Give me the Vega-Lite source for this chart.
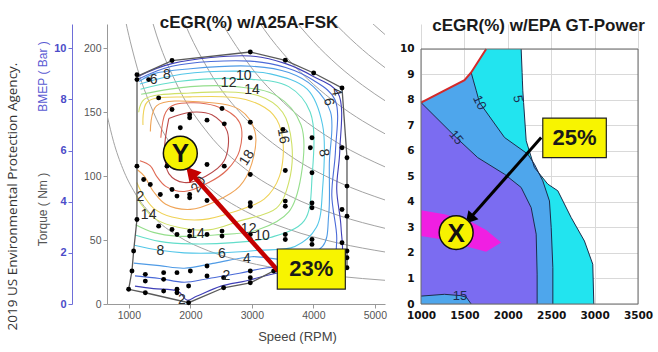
{
  "$schema": "https://vega.github.io/schema/vega-lite/v6.json",
  "background": "white",
  "padding": {"left": 5, "top": 14, "right": 5, "bottom": 5},
  "config": {"view": {"stroke": null}, "font": "Liberation Sans", "axis": {"labelFlush": false}},
  "spacing": 36,
  "bounds": "flush",
  "datasets": {
    "powerLines": [
      {"kw": 10, "speed": 650, "torque": 146.9}, {"kw": 10, "speed": 750, "torque": 127.3}, {"kw": 10, "speed": 900, "torque": 106.1}, {"kw": 10, "speed": 1100, "torque": 86.8}, {"kw": 10, "speed": 1400, "torque": 68.2}, {"kw": 10, "speed": 1800, "torque": 53.1}, {"kw": 10, "speed": 2300, "torque": 41.5}, {"kw": 10, "speed": 2900, "torque": 32.9}, {"kw": 10, "speed": 3600, "torque": 26.5}, {"kw": 10, "speed": 4400, "torque": 21.7}, {"kw": 10, "speed": 5200, "torque": 18.4},
      {"kw": 22, "speed": 750, "torque": 280.1}, {"kw": 22, "speed": 900, "torque": 233.4}, {"kw": 22, "speed": 1100, "torque": 191.0}, {"kw": 22, "speed": 1400, "torque": 150.0}, {"kw": 22, "speed": 1800, "torque": 116.7}, {"kw": 22, "speed": 2300, "torque": 91.3}, {"kw": 22, "speed": 2900, "torque": 72.4}, {"kw": 22, "speed": 3600, "torque": 58.4}, {"kw": 22, "speed": 4400, "torque": 47.7}, {"kw": 22, "speed": 5200, "torque": 40.4},
      {"kw": 32, "speed": 1100, "torque": 277.8}, {"kw": 32, "speed": 1400, "torque": 218.2}, {"kw": 32, "speed": 1800, "torque": 169.8}, {"kw": 32, "speed": 2300, "torque": 132.9}, {"kw": 32, "speed": 2900, "torque": 105.4}, {"kw": 32, "speed": 3600, "torque": 84.9}, {"kw": 32, "speed": 4400, "torque": 69.4}, {"kw": 32, "speed": 5200, "torque": 58.8},
      {"kw": 44, "speed": 1400, "torque": 300.1}, {"kw": 44, "speed": 1800, "torque": 233.4}, {"kw": 44, "speed": 2300, "torque": 182.7}, {"kw": 44, "speed": 2900, "torque": 144.9}, {"kw": 44, "speed": 3600, "torque": 116.7}, {"kw": 44, "speed": 4400, "torque": 95.5}, {"kw": 44, "speed": 5200, "torque": 80.8},
      {"kw": 58, "speed": 1800, "torque": 307.7}, {"kw": 58, "speed": 2300, "torque": 240.8}, {"kw": 58, "speed": 2900, "torque": 191.0}, {"kw": 58, "speed": 3600, "torque": 153.9}, {"kw": 58, "speed": 4400, "torque": 125.9}, {"kw": 58, "speed": 5200, "torque": 106.5},
      {"kw": 72, "speed": 2300, "torque": 298.9}, {"kw": 72, "speed": 2600, "torque": 264.4}, {"kw": 72, "speed": 2900, "torque": 237.1}, {"kw": 72, "speed": 3200, "torque": 214.8}, {"kw": 72, "speed": 3600, "torque": 191.0}, {"kw": 72, "speed": 4000, "torque": 171.9}, {"kw": 72, "speed": 4400, "torque": 156.2}, {"kw": 72, "speed": 4800, "torque": 143.2}, {"kw": 72, "speed": 5200, "torque": 132.2},
      {"kw": 86, "speed": 2900, "torque": 283.2}, {"kw": 86, "speed": 3200, "torque": 256.6}, {"kw": 86, "speed": 3600, "torque": 228.2}, {"kw": 86, "speed": 4000, "torque": 205.3}, {"kw": 86, "speed": 4400, "torque": 186.6}, {"kw": 86, "speed": 4800, "torque": 171.1}, {"kw": 86, "speed": 5200, "torque": 157.9},
      {"kw": 100, "speed": 3600, "torque": 265.3}, {"kw": 100, "speed": 4000, "torque": 238.7}, {"kw": 100, "speed": 4400, "torque": 217.0}, {"kw": 100, "speed": 4800, "torque": 198.9}, {"kw": 100, "speed": 5200, "torque": 183.6},
      {"kw": 114, "speed": 3600, "torque": 302.4}, {"kw": 114, "speed": 4000, "torque": 272.1}, {"kw": 114, "speed": 4400, "torque": 247.4}, {"kw": 114, "speed": 4800, "torque": 226.8}, {"kw": 114, "speed": 5200, "torque": 209.3}
    ],
    "contours": [
      {"level": 2, "seq": 0, "speed": 1150, "torque": 178}, {"level": 2, "seq": 1, "speed": 1700, "torque": 188}, {"level": 2, "seq": 2, "speed": 2975, "torque": 194}, {"level": 2, "seq": 3, "speed": 3550, "torque": 188}, {"level": 2, "seq": 4, "speed": 4000, "torque": 178}, {"level": 2, "seq": 5, "speed": 4400, "torque": 165}, {"level": 2, "seq": 6, "speed": 4430, "torque": 120}, {"level": 2, "seq": 7, "speed": 4380, "torque": 90}, {"level": 2, "seq": 8, "speed": 4450, "torque": 60}, {"level": 2, "seq": 9, "speed": 4430, "torque": 35}, {"level": 2, "seq": 10, "speed": 4000, "torque": 28}, {"level": 2, "seq": 11, "speed": 3400, "torque": 24}, {"level": 2, "seq": 12, "speed": 2900, "torque": 18}, {"level": 2, "seq": 13, "speed": 2500, "torque": 14}, {"level": 2, "seq": 14, "speed": 2100, "torque": 6}, {"level": 2, "seq": 15, "speed": 1950, "torque": 3}, {"level": 2, "seq": 16, "speed": 1800, "torque": 10}, {"level": 2, "seq": 17, "speed": 1400, "torque": 12}, {"level": 2, "seq": 18, "speed": 1100, "torque": 14},
      {"level": 4, "seq": 0, "speed": 1160, "torque": 176}, {"level": 4, "seq": 1, "speed": 1700, "torque": 186}, {"level": 4, "seq": 2, "speed": 2975, "torque": 190}, {"level": 4, "seq": 3, "speed": 3550, "torque": 185}, {"level": 4, "seq": 4, "speed": 4000, "torque": 175}, {"level": 4, "seq": 5, "speed": 4350, "torque": 160}, {"level": 4, "seq": 6, "speed": 4360, "torque": 120}, {"level": 4, "seq": 7, "speed": 4300, "torque": 85}, {"level": 4, "seq": 8, "speed": 4380, "torque": 50}, {"level": 4, "seq": 9, "speed": 4300, "torque": 33}, {"level": 4, "seq": 10, "speed": 3800, "torque": 30}, {"level": 4, "seq": 11, "speed": 3200, "torque": 28}, {"level": 4, "seq": 12, "speed": 2800, "torque": 24}, {"level": 4, "seq": 13, "speed": 2300, "torque": 20}, {"level": 4, "seq": 14, "speed": 1900, "torque": 17}, {"level": 4, "seq": 15, "speed": 1500, "torque": 20}, {"level": 4, "seq": 16, "speed": 1100, "torque": 22},
      {"level": 6, "seq": 0, "speed": 1170, "torque": 174}, {"level": 6, "seq": 1, "speed": 1400, "torque": 180}, {"level": 6, "seq": 2, "speed": 2000, "torque": 184}, {"level": 6, "seq": 3, "speed": 3000, "torque": 186}, {"level": 6, "seq": 4, "speed": 3600, "torque": 181}, {"level": 6, "seq": 5, "speed": 4000, "torque": 170}, {"level": 6, "seq": 6, "speed": 4280, "torque": 150}, {"level": 6, "seq": 7, "speed": 4260, "torque": 110}, {"level": 6, "seq": 8, "speed": 4250, "torque": 70}, {"level": 6, "seq": 9, "speed": 4150, "torque": 45}, {"level": 6, "seq": 10, "speed": 3600, "torque": 35}, {"level": 6, "seq": 11, "speed": 3000, "torque": 37}, {"level": 6, "seq": 12, "speed": 2400, "torque": 32}, {"level": 6, "seq": 13, "speed": 1900, "torque": 28}, {"level": 6, "seq": 14, "speed": 1500, "torque": 30}, {"level": 6, "seq": 15, "speed": 1080, "torque": 32},
      {"level": 8, "seq": 0, "speed": 1180, "torque": 172}, {"level": 8, "seq": 1, "speed": 1650, "torque": 178}, {"level": 8, "seq": 2, "speed": 2500, "torque": 182}, {"level": 8, "seq": 3, "speed": 3300, "torque": 180}, {"level": 8, "seq": 4, "speed": 3900, "torque": 168}, {"level": 8, "seq": 5, "speed": 4150, "torque": 140}, {"level": 8, "seq": 6, "speed": 4150, "torque": 90}, {"level": 8, "seq": 7, "speed": 4050, "torque": 60}, {"level": 8, "seq": 8, "speed": 3700, "torque": 45}, {"level": 8, "seq": 9, "speed": 3100, "torque": 42}, {"level": 8, "seq": 10, "speed": 2500, "torque": 40}, {"level": 8, "seq": 11, "speed": 1900, "torque": 40}, {"level": 8, "seq": 12, "speed": 1500, "torque": 42}, {"level": 8, "seq": 13, "speed": 1090, "torque": 46},
      {"level": 10, "seq": 0, "speed": 1190, "torque": 168}, {"level": 10, "seq": 1, "speed": 1800, "torque": 174}, {"level": 10, "seq": 2, "speed": 2900, "torque": 176}, {"level": 10, "seq": 3, "speed": 3600, "torque": 170}, {"level": 10, "seq": 4, "speed": 3950, "torque": 150}, {"level": 10, "seq": 5, "speed": 3980, "torque": 100}, {"level": 10, "seq": 6, "speed": 3850, "torque": 65}, {"level": 10, "seq": 7, "speed": 3300, "torque": 52}, {"level": 10, "seq": 8, "speed": 2700, "torque": 48}, {"level": 10, "seq": 9, "speed": 2000, "torque": 47}, {"level": 10, "seq": 10, "speed": 1500, "torque": 49}, {"level": 10, "seq": 11, "speed": 1100, "torque": 54},
      {"level": 12, "seq": 0, "speed": 1200, "torque": 164}, {"level": 12, "seq": 1, "speed": 2000, "torque": 170}, {"level": 12, "seq": 2, "speed": 2750, "torque": 170}, {"level": 12, "seq": 3, "speed": 3400, "torque": 163}, {"level": 12, "seq": 4, "speed": 3800, "torque": 140}, {"level": 12, "seq": 5, "speed": 3800, "torque": 100}, {"level": 12, "seq": 6, "speed": 3600, "torque": 72}, {"level": 12, "seq": 7, "speed": 3100, "torque": 58}, {"level": 12, "seq": 8, "speed": 2400, "torque": 54}, {"level": 12, "seq": 9, "speed": 1800, "torque": 53}, {"level": 12, "seq": 10, "speed": 1400, "torque": 56}, {"level": 12, "seq": 11, "speed": 1110, "torque": 62},
      {"level": 14, "seq": 0, "speed": 1160, "torque": 150}, {"level": 14, "seq": 1, "speed": 1250, "torque": 160}, {"level": 14, "seq": 2, "speed": 2000, "torque": 165}, {"level": 14, "seq": 3, "speed": 3100, "torque": 163}, {"level": 14, "seq": 4, "speed": 3500, "torque": 150}, {"level": 14, "seq": 5, "speed": 3650, "torque": 125}, {"level": 14, "seq": 6, "speed": 3600, "torque": 95}, {"level": 14, "seq": 7, "speed": 3400, "torque": 75}, {"level": 14, "seq": 8, "speed": 2800, "torque": 65}, {"level": 14, "seq": 9, "speed": 2300, "torque": 58}, {"level": 14, "seq": 10, "speed": 1800, "torque": 60}, {"level": 14, "seq": 11, "speed": 1450, "torque": 66}, {"level": 14, "seq": 12, "speed": 1200, "torque": 78}, {"level": 14, "seq": 13, "speed": 1120, "torque": 85},
      {"level": 16, "seq": 0, "speed": 1230, "torque": 140}, {"level": 16, "seq": 1, "speed": 1300, "torque": 158}, {"level": 16, "seq": 2, "speed": 2000, "torque": 162}, {"level": 16, "seq": 3, "speed": 2900, "torque": 160}, {"level": 16, "seq": 4, "speed": 3350, "torque": 148}, {"level": 16, "seq": 5, "speed": 3500, "torque": 130}, {"level": 16, "seq": 6, "speed": 3450, "torque": 100}, {"level": 16, "seq": 7, "speed": 3200, "torque": 82}, {"level": 16, "seq": 8, "speed": 2700, "torque": 72}, {"level": 16, "seq": 9, "speed": 2200, "torque": 66}, {"level": 16, "seq": 10, "speed": 1700, "torque": 68}, {"level": 16, "seq": 11, "speed": 1400, "torque": 75}, {"level": 16, "seq": 12, "speed": 1200, "torque": 88}, {"level": 16, "seq": 13, "speed": 1130, "torque": 95},
      {"level": 18, "seq": 0, "speed": 1350, "torque": 135}, {"level": 18, "seq": 1, "speed": 1450, "torque": 155}, {"level": 18, "seq": 2, "speed": 2200, "torque": 158}, {"level": 18, "seq": 3, "speed": 2800, "torque": 152}, {"level": 18, "seq": 4, "speed": 3050, "torque": 135}, {"level": 18, "seq": 5, "speed": 3000, "torque": 110}, {"level": 18, "seq": 6, "speed": 2800, "torque": 92}, {"level": 18, "seq": 7, "speed": 2400, "torque": 80}, {"level": 18, "seq": 8, "speed": 2000, "torque": 74}, {"level": 18, "seq": 9, "speed": 1600, "torque": 78}, {"level": 18, "seq": 10, "speed": 1400, "torque": 88}, {"level": 18, "seq": 11, "speed": 1250, "torque": 100}, {"level": 18, "seq": 12, "speed": 1140, "torque": 105},
      {"level": 20, "seq": 0, "speed": 1520, "torque": 130}, {"level": 20, "seq": 1, "speed": 1600, "torque": 150}, {"level": 20, "seq": 2, "speed": 1750, "torque": 156}, {"level": 20, "seq": 3, "speed": 2400, "torque": 155}, {"level": 20, "seq": 4, "speed": 2800, "torque": 142}, {"level": 20, "seq": 5, "speed": 2800, "torque": 120}, {"level": 20, "seq": 6, "speed": 2600, "torque": 105}, {"level": 20, "seq": 7, "speed": 2300, "torque": 95}, {"level": 20, "seq": 8, "speed": 1900, "torque": 88}, {"level": 20, "seq": 9, "speed": 1600, "torque": 92}, {"level": 20, "seq": 10, "speed": 1450, "torque": 100}, {"level": 20, "seq": 11, "speed": 1350, "torque": 108}, {"level": 20, "seq": 12, "speed": 1180, "torque": 112},
      {"level": 22, "seq": 0, "speed": 1650, "torque": 145}, {"level": 22, "seq": 1, "speed": 2000, "torque": 150}, {"level": 22, "seq": 2, "speed": 2350, "torque": 148}, {"level": 22, "seq": 3, "speed": 2600, "torque": 135}, {"level": 22, "seq": 4, "speed": 2550, "torque": 112}, {"level": 22, "seq": 5, "speed": 2250, "torque": 100}, {"level": 22, "seq": 6, "speed": 1900, "torque": 95}, {"level": 22, "seq": 7, "speed": 1650, "torque": 102}, {"level": 22, "seq": 8, "speed": 1580, "torque": 120}, {"level": 22, "seq": 9, "speed": 1650, "torque": 145}
    ],
    "envelope": [
      {"seq": 0, "speed": 1133, "torque": 178}, {"seq": 1, "speed": 1702, "torque": 190.4}, {"seq": 2, "speed": 2975, "torque": 197.1}, {"seq": 3, "speed": 3544, "torque": 190.6}, {"seq": 4, "speed": 4005, "torque": 180.7}, {"seq": 5, "speed": 4466, "torque": 169}, {"seq": 6, "speed": 4547, "torque": 114.4}, {"seq": 7, "speed": 4547, "torque": 28.4}, {"seq": 8, "speed": 3355, "torque": 25.8}, {"seq": 9, "speed": 2975, "torque": 16.6}, {"seq": 10, "speed": 2541, "torque": 12.7}, {"seq": 11, "speed": 1972, "torque": 1.0}, {"seq": 12, "speed": 1268, "torque": 8.8}, {"seq": 13, "speed": 997, "torque": 11.5}, {"seq": 14, "speed": 1051, "torque": 25.8}, {"seq": 15, "speed": 1078, "torque": 41.4}, {"seq": 16, "speed": 1132, "torque": 66.1}, {"seq": 17, "speed": 1133, "torque": 178}
    ],
    "testPoints": [
      {"speed": 1132, "torque": 179.4}, {"speed": 1132, "torque": 175.5}, {"speed": 1322, "torque": 175.5}, {"speed": 1702, "torque": 190.4}, {"speed": 2975, "torque": 197.1}, {"speed": 3544, "torque": 190.6}, {"speed": 4005, "torque": 180.7}, {"speed": 4466, "torque": 169},
      {"speed": 1485, "torque": 161.2}, {"speed": 1702, "torque": 152.1}, {"speed": 1837, "torque": 137.8}, {"speed": 1989, "torque": 148}, {"speed": 1989, "torque": 145.6}, {"speed": 2271, "torque": 143.8}, {"speed": 2515, "torque": 152.9}, {"speed": 2552, "torque": 140.9}, {"speed": 2975, "torque": 142.2}, {"speed": 2975, "torque": 130}, {"speed": 3506, "torque": 136.5}, {"speed": 3978, "torque": 130}, {"speed": 3951, "torque": 122.2}, {"speed": 4466, "torque": 122.2}, {"speed": 4547, "torque": 114.4},
      {"speed": 1132, "torque": 107.8}, {"speed": 1620, "torque": 107.8}, {"speed": 2271, "torque": 109.1}, {"speed": 2552, "torque": 107.8},
      {"speed": 2975, "torque": 101.3}, {"speed": 3544, "torque": 104.4}, {"speed": 3978, "torque": 102.6}, {"speed": 4547, "torque": 92.2}, {"speed": 1241, "torque": 97.4}, {"speed": 1349, "torque": 93.5}, {"speed": 1512, "torque": 85.7}, {"speed": 1702, "torque": 89.6}, {"speed": 1783, "torque": 84.4}, {"speed": 1989, "torque": 85.7}, {"speed": 1989, "torque": 83.1}, {"speed": 2271, "torque": 81}, {"speed": 2975, "torque": 79.2}, {"speed": 2975, "torque": 76.5}, {"speed": 3544, "torque": 80.5}, {"speed": 3544, "torque": 76.5}, {"speed": 3978, "torque": 79}, {"speed": 3978, "torque": 75.3}, {"speed": 4466, "torque": 73.9}, {"speed": 4547, "torque": 68.7},
      {"speed": 1132, "torque": 66.1}, {"speed": 1485, "torque": 60.9}, {"speed": 1702, "torque": 58.3}, {"speed": 1783, "torque": 54.4}, {"speed": 1989, "torque": 57}, {"speed": 1989, "torque": 53.1}, {"speed": 2271, "torque": 54.4}, {"speed": 2515, "torque": 57}, {"speed": 2515, "torque": 53.1}, {"speed": 2975, "torque": 54.4}, {"speed": 2975, "torque": 50.5}, {"speed": 3544, "torque": 54.4}, {"speed": 3544, "torque": 50.5}, {"speed": 3978, "torque": 50.5}, {"speed": 3978, "torque": 46.6}, {"speed": 4466, "torque": 47.9}, {"speed": 4547, "torque": 41.4}, {"speed": 4547, "torque": 36.2}, {"speed": 4547, "torque": 28.4},
      {"speed": 1078, "torque": 41.4}, {"speed": 1051, "torque": 25.8}, {"speed": 1268, "torque": 23.2}, {"speed": 1268, "torque": 17.9}, {"speed": 1566, "torque": 24.5}, {"speed": 1566, "torque": 19.3}, {"speed": 1783, "torque": 24.5}, {"speed": 2000, "torque": 25.8}, {"speed": 2271, "torque": 29.7}, {"speed": 2541, "torque": 20.6}, {"speed": 2975, "torque": 25.8}, {"speed": 2975, "torque": 20.6}, {"speed": 2271, "torque": 21.9},
      {"speed": 997, "torque": 11.5}, {"speed": 1268, "torque": 8.8}, {"speed": 1566, "torque": 10.1}, {"speed": 1783, "torque": 11.5}, {"speed": 1783, "torque": 8.8}, {"speed": 1972, "torque": 14.1}, {"speed": 1972, "torque": 1.0}, {"speed": 2541, "torque": 12.7}, {"speed": 2975, "torque": 16.6}, {"speed": 3355, "torque": 25.8}
    ],
    "levelLabels": [
      {"label": "6", "speed": 1403, "torque": 175.5}, {"label": "8", "speed": 1620, "torque": 179.4}, {"label": "12", "speed": 2623, "torque": 172.9}, {"label": "10", "speed": 2867, "torque": 178.1}, {"label": "14", "speed": 3002, "torque": 167.7},
      {"label": "14", "speed": 2108, "torque": 55}, {"label": "8", "speed": 1512, "torque": 41.4}, {"label": "6", "speed": 2515, "torque": 38.8}, {"label": "4", "speed": 2921, "torque": 34.9}, {"label": "12", "speed": 2948, "torque": 58.3}, {"label": "10", "speed": 3165, "torque": 53.1}, {"label": "2", "speed": 2585, "torque": 21.9}, {"label": "2", "speed": 1864, "torque": 3}, {"label": "14", "speed": 1322, "torque": 70}, {"label": "2", "speed": 1187, "torque": 84}
    ],
    "levelLabelsDown": [
      {"label": "16", "speed": 3506, "torque": 131.3}, {"label": "4", "speed": 4370, "torque": 166}, {"label": "6", "speed": 4250, "torque": 158}, {"label": "8", "speed": 4168, "torque": 118.2}
    ],
    "levelLabelsUp": [
      {"label": "18", "speed": 2921, "torque": 114.3}, {"label": "20", "speed": 2135, "torque": 93.5}
    ],
    "torqueRange": [
      {"speed": 645, "torque": 0}, {"speed": 645, "torque": 219}
    ]
  },
  "hconcat": [
    {
      "width": 278,
      "height": 280,
      "title": {"text": "cEGR(%) w/A25A-FSK", "font": "Liberation Sans", "fontSize": 17, "fontWeight": "bold", "color": "#1a1a1a", "offset": -11, "anchor": "middle", "dx": 3},
      "encoding": {
        "x": {
          "field": "speed", "type": "quantitative",
          "scale": {"domain": [645, 5165], "nice": false, "zero": false},
          "axis": {"values": [1000, 2000, 3000, 4000, 5000], "format": "d", "title": "Speed (RPM)", "titleX": 190, "titleY": 26, "titleFont": "Liberation Sans", "titleFontSize": 13, "titleFontWeight": "normal", "titleColor": "#444", "labelFont": "Liberation Sans", "labelFontSize": 10.5, "labelColor": "#555", "domainColor": "#999", "tickColor": "#999", "tickSize": 4, "grid": false}
        },
        "y": {
          "field": "torque", "type": "quantitative",
          "scale": {"domain": [0, 219], "nice": false, "zero": false},
          "axis": null
        }
      },
      "layer": [
        {"data": {"name": "powerLines"}, "mark": {"type": "line", "color": "#a3a3a3", "strokeWidth": 1, "interpolate": "monotone", "clip": true}, "encoding": {"detail": {"field": "kw", "type": "nominal"}}},
        {"data": {"name": "contours"}, "mark": {"type": "line", "strokeWidth": 1.1, "interpolate": "catmull-rom"}, "encoding": {"color": {"field": "level", "type": "ordinal", "scale": {"domain": [2, 4, 6, 8, 10, 12, 14, 16, 18, 20, 22], "range": ["#3f3fb8", "#4a6ad8", "#4f9be6", "#52c6e8", "#62ddca", "#95de8c", "#cfe066", "#efd257", "#efa457", "#df6a55", "#b84848"]}, "legend": null}, "order": {"field": "seq", "type": "quantitative"}}},
        {"data": {"name": "envelope"}, "mark": {"type": "line", "color": "#5a5a5a", "strokeWidth": 1.3}, "encoding": {"order": {"field": "seq", "type": "quantitative"}}},
        {"data": {"name": "testPoints"}, "mark": {"type": "point", "filled": true, "color": "#000", "size": 24, "opacity": 1}},
        {"data": {"name": "levelLabels"}, "mark": {"type": "text", "font": "Liberation Sans", "fontSize": 14, "color": "#2a2a2a"}, "encoding": {"text": {"field": "label"}}},
        {"data": {"name": "levelLabelsDown"}, "mark": {"type": "text", "font": "Liberation Sans", "fontSize": 14, "color": "#2a2a2a", "angle": 80}, "encoding": {"text": {"field": "label"}}},
        {"data": {"name": "levelLabelsUp"}, "mark": {"type": "text", "font": "Liberation Sans", "fontSize": 14, "color": "#2a2a2a", "angle": -58}, "encoding": {"text": {"field": "label"}}},
        {"data": {"values": [{"seq": 0, "speed": 3430, "torque": 25.8}, {"seq": 1, "speed": 2037, "torque": 100.8}]}, "mark": {"type": "line", "color": "#c40000", "strokeWidth": 4.5}, "encoding": {"order": {"field": "seq", "type": "quantitative"}}},
        {"data": {"values": [{"speed": 2010, "torque": 103}]}, "mark": {"type": "point", "shape": "triangle-up", "filled": true, "color": "#c40000", "opacity": 1, "size": 260, "angle": -41.7}},
        {"data": {"values": [{"speed": 1837, "torque": 118, "tag": "Y"}]}, "mark": {"type": "point", "shape": "circle", "filled": true, "fill": "#f6f200", "stroke": "#111", "strokeWidth": 1.5, "opacity": 1, "size": 1150}},
        {"data": {"values": [{"speed": 1837, "torque": 118, "tag": "Y"}]}, "mark": {"type": "text", "font": "Liberation Sans", "fontSize": 26, "fontWeight": "bold", "color": "#111", "baseline": "middle", "dy": 1}, "encoding": {"text": {"field": "tag"}}},
        {"data": {"values": [{"speed": 3414, "speed2": 4520, "torque": 43, "torque2": 11.7}]}, "mark": {"type": "rect", "fill": "#f8f400", "stroke": "#222", "strokeWidth": 1.2}, "encoding": {"x2": {"field": "speed2"}, "y2": {"field": "torque2"}}},
        {"data": {"values": [{"speed": 3967, "torque": 27.4, "tag": "23%"}]}, "mark": {"type": "text", "font": "Liberation Sans", "fontSize": 22, "fontWeight": "bold", "color": "#1a1a1a", "baseline": "middle"}, "encoding": {"text": {"field": "tag"}}},
        {
          "data": {"name": "torqueRange"},
          "mark": {"type": "point", "opacity": 0},
          "encoding": {
            "y": {"field": "torque", "type": "quantitative", "axis": {"orient": "left", "values": [0, 50, 100, 150, 200], "title": "Torque ( Nm )", "titleX": -65, "titleY": 185, "titleAngle": -90, "titleAlign": "center", "titleBaseline": "middle", "titleFont": "Liberation Sans", "titleFontSize": 12, "titleFontWeight": "normal", "titleColor": "#555", "labelFont": "Liberation Sans", "labelFontSize": 10.5, "labelColor": "#555", "domainColor": "#999", "tickColor": "#999", "tickSize": 4, "grid": false}}
          }
        },
        {
          "data": {"name": "torqueRange"},
          "mark": {"type": "point", "opacity": 0},
          "encoding": {
            "y": {"field": "torque", "type": "quantitative", "axis": {"orient": "left", "offset": 35, "values": [0, 40, 80, 120, 160, 200], "labelExpr": "datum.value / 20", "title": "BMEP ( Bar )", "titleX": -30, "titleY": 52, "titleAngle": -90, "titleAlign": "center", "titleBaseline": "middle", "titleFont": "Liberation Sans", "titleFontSize": 12, "titleFontWeight": "normal", "titleColor": "#5a5ad2", "labelFont": "Liberation Sans", "labelFontSize": 11, "labelFontWeight": "bold", "labelColor": "#4b4bc8", "domainColor": "#6e6ed8", "tickColor": "#6e6ed8", "tickSize": 4, "grid": false}}
          }
        },
        {
          "data": {"name": "torqueRange"},
          "mark": {"type": "point", "opacity": 0},
          "encoding": {
            "y": {"field": "torque", "type": "quantitative", "axis": {"orient": "left", "offset": 0, "domain": false, "ticks": false, "labels": false, "grid": false, "title": "2019 US Environmental Protection Agency.", "titleX": -95, "titleY": 172, "titleAngle": -90, "titleAlign": "center", "titleBaseline": "middle", "titleFont": "Open Sans", "titleFontSize": 13.5, "titleFontWeight": "normal", "titleColor": "#333"}}
          }
        }
      ],
      "resolve": {"axis": {"y": "independent"}}
    },
    {
      "width": 217,
      "height": 280,
      "title": {"text": "cEGR(%) w/EPA GT-Power", "font": "Liberation Sans", "fontSize": 17, "fontWeight": "bold", "color": "#1a1a1a", "offset": -11, "anchor": "middle", "dx": 9},
      "encoding": {
        "x": {
          "field": "speed", "type": "quantitative",
          "scale": {"domain": [1000, 3500], "nice": false, "zero": false},
          "axis": {"values": [1000, 1500, 2000, 2500, 3000, 3500], "format": "d", "title": null, "grid": true, "gridColor": "#d9d9d9", "domain": false, "ticks": false, "labelOverlap": false, "labelFlush": false, "labelFont": "DejaVu Sans", "labelFontWeight": "bold", "labelFontSize": 10.5, "labelColor": "#111", "labelPadding": 6}
        },
        "y": {
          "field": "bmep", "type": "quantitative",
          "scale": {"domain": [0, 10.98], "nice": false, "zero": false},
          "axis": {"values": [0, 1, 2, 3, 4, 5, 6, 7, 8, 9, 10], "title": null, "grid": true, "gridColor": "#d9d9d9", "domain": false, "ticks": false, "labelOverlap": false, "labelFlush": false, "labelFont": "DejaVu Sans", "labelFontWeight": "bold", "labelFontSize": 10.5, "labelColor": "#111", "labelPadding": 7}
        }
      },
      "layer": [
        {
          "data": {"values": [
            {"bmep": 0, "xl": 1000, "xr": 2991}, {"bmep": 1.56, "xl": 1000, "xr": 2979}, {"bmep": 2.47, "xl": 1000, "xr": 2883}, {"bmep": 3.39, "xl": 1000, "xr": 2730}, {"bmep": 4.44, "xl": 1000, "xr": 2576}, {"bmep": 4.70, "xl": 1000, "xr": 2461}, {"bmep": 5.35, "xl": 1000, "xr": 2307}, {"bmep": 6.40, "xl": 1000, "xr": 2212}, {"bmep": 7.90, "xl": 1000, "xr": 2182}, {"bmep": 8.36, "xl": 1262, "xr": 2173}, {"bmep": 8.78, "xl": 1501, "xr": 2168}, {"bmep": 9.08, "xl": 1578, "xr": 2165}, {"bmep": 10, "xl": 1751, "xr": 2154}
          ]},
          "mark": {"type": "area", "orient": "horizontal", "color": "#22e4ef", "opacity": 1},
          "encoding": {"x": {"field": "xl", "type": "quantitative"}, "x2": {"field": "xr"}}
        },
        {
          "data": {"values": [
            {"bmep": 0, "xl": 1000, "xr": 2519}, {"bmep": 1.43, "xl": 1000, "xr": 2519}, {"bmep": 3.0, "xl": 1000, "xr": 2500}, {"bmep": 4.04, "xl": 1000, "xr": 2480}, {"bmep": 4.83, "xl": 1000, "xr": 2403}, {"bmep": 5.48, "xl": 1000, "xr": 2307}, {"bmep": 5.88, "xl": 1000, "xr": 2230}, {"bmep": 6.53, "xl": 1000, "xr": 1962}, {"bmep": 7.90, "xl": 1000, "xr": 1674}, {"bmep": 8.36, "xl": 1262, "xr": 1637}, {"bmep": 8.78, "xl": 1501, "xr": 1602}, {"bmep": 9.08, "xl": 1578, "xr": 1578}
          ]},
          "mark": {"type": "area", "orient": "horizontal", "color": "#4ea6ec", "opacity": 1},
          "encoding": {"x": {"field": "xl", "type": "quantitative"}, "x2": {"field": "xr"}}
        },
        {
          "data": {"values": [
            {"bmep": 0, "xl": 1000, "xr": 2338}, {"bmep": 1.17, "xl": 1000, "xr": 2338}, {"bmep": 2.74, "xl": 1000, "xr": 2327}, {"bmep": 3.78, "xl": 1000, "xr": 2269}, {"bmep": 4.57, "xl": 1000, "xr": 2154}, {"bmep": 5.09, "xl": 1000, "xr": 1962}, {"bmep": 5.74, "xl": 1000, "xr": 1654}, {"bmep": 6.53, "xl": 1000, "xr": 1405}, {"bmep": 7.90, "xl": 1000, "xr": 1000}
          ]},
          "mark": {"type": "area", "orient": "horizontal", "color": "#7b6cf1", "opacity": 1},
          "encoding": {"x": {"field": "xl", "type": "quantitative"}, "x2": {"field": "xr"}}
        },
        {
          "data": {"values": [
            {"speed": 1000, "lo": 0, "hi": 0.31}, {"speed": 1271, "lo": 0, "hi": 0.38}, {"speed": 1450, "lo": 0, "hi": 0.33}, {"speed": 1521, "lo": 0, "hi": 0.27}, {"speed": 1578, "lo": 0, "hi": 0}
          ]},
          "mark": {"type": "area", "orient": "vertical", "color": "#4ea6ec", "opacity": 1},
          "encoding": {"y": {"field": "hi", "type": "quantitative"}, "y2": {"field": "lo"}}
        },
        {
          "data": {"values": [
            {"speed": 1000, "lo": 2.67, "hi": 3.68}, {"speed": 1270, "lo": 2.52, "hi": 3.52}, {"speed": 1500, "lo": 2.28, "hi": 3.30}, {"speed": 1580, "lo": 2.21, "hi": 3.22}, {"speed": 1750, "lo": 2.05, "hi": 2.90}, {"speed": 1924, "lo": 2.41, "hi": 2.41}
          ]},
          "mark": {"type": "area", "orient": "vertical", "color": "#f01fe2", "opacity": 1},
          "encoding": {"y": {"field": "hi", "type": "quantitative"}, "y2": {"field": "lo"}}
        },
        {
          "data": {"values": [
            {"line": "5", "seq": 0, "speed": 2991, "bmep": 0}, {"line": "5", "seq": 1, "speed": 2979, "bmep": 1.56}, {"line": "5", "seq": 2, "speed": 2883, "bmep": 2.47}, {"line": "5", "seq": 3, "speed": 2730, "bmep": 3.39}, {"line": "5", "seq": 4, "speed": 2576, "bmep": 4.44}, {"line": "5", "seq": 5, "speed": 2461, "bmep": 4.70}, {"line": "5", "seq": 6, "speed": 2307, "bmep": 5.35}, {"line": "5", "seq": 7, "speed": 2212, "bmep": 6.40}, {"line": "5", "seq": 8, "speed": 2182, "bmep": 7.90}, {"line": "5", "seq": 9, "speed": 2173, "bmep": 8.36}, {"line": "5", "seq": 10, "speed": 2168, "bmep": 8.78}, {"line": "5", "seq": 11, "speed": 2165, "bmep": 9.08}, {"line": "5", "seq": 12, "speed": 2154, "bmep": 10},
            {"line": "10", "seq": 0, "speed": 2519, "bmep": 0}, {"line": "10", "seq": 1, "speed": 2519, "bmep": 1.43}, {"line": "10", "seq": 2, "speed": 2500, "bmep": 3.0}, {"line": "10", "seq": 3, "speed": 2480, "bmep": 4.04}, {"line": "10", "seq": 4, "speed": 2403, "bmep": 4.83}, {"line": "10", "seq": 5, "speed": 2307, "bmep": 5.48}, {"line": "10", "seq": 6, "speed": 2230, "bmep": 5.88}, {"line": "10", "seq": 7, "speed": 1962, "bmep": 6.53}, {"line": "10", "seq": 8, "speed": 1674, "bmep": 7.9}, {"line": "10", "seq": 9, "speed": 1637, "bmep": 8.36}, {"line": "10", "seq": 10, "speed": 1602, "bmep": 8.78}, {"line": "10", "seq": 11, "speed": 1578, "bmep": 9.08},
            {"line": "15", "seq": 0, "speed": 2338, "bmep": 0}, {"line": "15", "seq": 1, "speed": 2338, "bmep": 1.17}, {"line": "15", "seq": 2, "speed": 2327, "bmep": 2.74}, {"line": "15", "seq": 3, "speed": 2269, "bmep": 3.78}, {"line": "15", "seq": 4, "speed": 2154, "bmep": 4.57}, {"line": "15", "seq": 5, "speed": 1962, "bmep": 5.09}, {"line": "15", "seq": 6, "speed": 1654, "bmep": 5.74}, {"line": "15", "seq": 7, "speed": 1405, "bmep": 6.53}, {"line": "15", "seq": 8, "speed": 1000, "bmep": 7.90},
            {"line": "15b", "seq": 0, "speed": 1000, "bmep": 0.31}, {"line": "15b", "seq": 1, "speed": 1271, "bmep": 0.38}, {"line": "15b", "seq": 2, "speed": 1450, "bmep": 0.33}, {"line": "15b", "seq": 3, "speed": 1521, "bmep": 0.27}, {"line": "15b", "seq": 4, "speed": 1578, "bmep": 0}
          ]},
          "mark": {"type": "line", "color": "#1c2c4c", "strokeWidth": 1},
          "encoding": {"detail": {"field": "line", "type": "nominal"}, "order": {"field": "seq", "type": "quantitative"}}
        },
        {
          "data": {"values": [{"seq": 0, "speed": 1000, "bmep": 7.90}, {"seq": 1, "speed": 1501, "bmep": 8.78}, {"seq": 2, "speed": 1578, "bmep": 9.08}, {"seq": 3, "speed": 1751, "bmep": 10}]},
          "mark": {"type": "line", "color": "#d42a2a", "strokeWidth": 2},
          "encoding": {"order": {"field": "seq", "type": "quantitative"}}
        },
        {
          "data": {"values": [{"speed": 1000, "speed2": 3500, "bmep": 0, "bmep2": 10}]},
          "mark": {"type": "rect", "fillOpacity": 0, "stroke": "#6a6a6a", "strokeWidth": 1},
          "encoding": {"x2": {"field": "speed2"}, "y2": {"field": "bmep2"}}
        },
        {
          "data": {"values": [{"label": "5", "speed": 2115, "bmep": 8.04}]},
          "mark": {"type": "text", "font": "Liberation Sans", "fontSize": 13, "color": "#1c2c50", "angle": 80},
          "encoding": {"text": {"field": "label"}}
        },
        {
          "data": {"values": [{"label": "10", "speed": 1674, "bmep": 7.9}]},
          "mark": {"type": "text", "font": "Liberation Sans", "fontSize": 13, "color": "#1c2c50", "angle": 65},
          "encoding": {"text": {"field": "label"}}
        },
        {
          "data": {"values": [{"label": "15", "speed": 1405, "bmep": 6.53}]},
          "mark": {"type": "text", "font": "Liberation Sans", "fontSize": 13, "color": "#1c2c50", "angle": 50},
          "encoding": {"text": {"field": "label"}}
        },
        {
          "data": {"values": [{"label": "15", "speed": 1450, "bmep": 0.32}]},
          "mark": {"type": "text", "font": "Liberation Sans", "fontSize": 13, "color": "#1c2c50"},
          "encoding": {"text": {"field": "label"}}
        },
        {
          "data": {"values": [{"seq": 0, "speed": 2385, "bmep": 6.53}, {"seq": 1, "speed": 1574, "bmep": 3.40}]},
          "mark": {"type": "line", "color": "#000", "strokeWidth": 3},
          "encoding": {"order": {"field": "seq", "type": "quantitative"}}
        },
        {
          "data": {"values": [{"speed": 1560, "bmep": 3.33}]},
          "mark": {"type": "point", "shape": "triangle-up", "filled": true, "color": "#000", "opacity": 1, "size": 180, "angle": 221.4}
        },
        {
          "data": {"values": [{"speed": 1405, "bmep": 2.80, "tag": "X"}]},
          "mark": {"type": "point", "shape": "circle", "filled": true, "fill": "#f6f200", "stroke": "#111", "strokeWidth": 1.5, "opacity": 1, "size": 1150}
        },
        {
          "data": {"values": [{"speed": 1405, "bmep": 2.80, "tag": "X"}]},
          "mark": {"type": "text", "font": "Liberation Sans", "fontSize": 26, "fontWeight": "bold", "color": "#111", "baseline": "middle", "dy": 1},
          "encoding": {"text": {"field": "tag"}}
        },
        {
          "data": {"values": [{"speed": 2403, "speed2": 3135, "bmep": 7.29, "bmep2": 5.74}]},
          "mark": {"type": "rect", "fill": "#f8f400", "stroke": "#222", "strokeWidth": 1.2},
          "encoding": {"x2": {"field": "speed2"}, "y2": {"field": "bmep2"}}
        },
        {
          "data": {"values": [{"speed": 2769, "bmep": 6.52, "tag": "25%"}]},
          "mark": {"type": "text", "font": "Liberation Sans", "fontSize": 22, "fontWeight": "bold", "color": "#1a1a1a", "baseline": "middle"},
          "encoding": {"text": {"field": "tag"}}
        }
      ]
    }
  ]
}
